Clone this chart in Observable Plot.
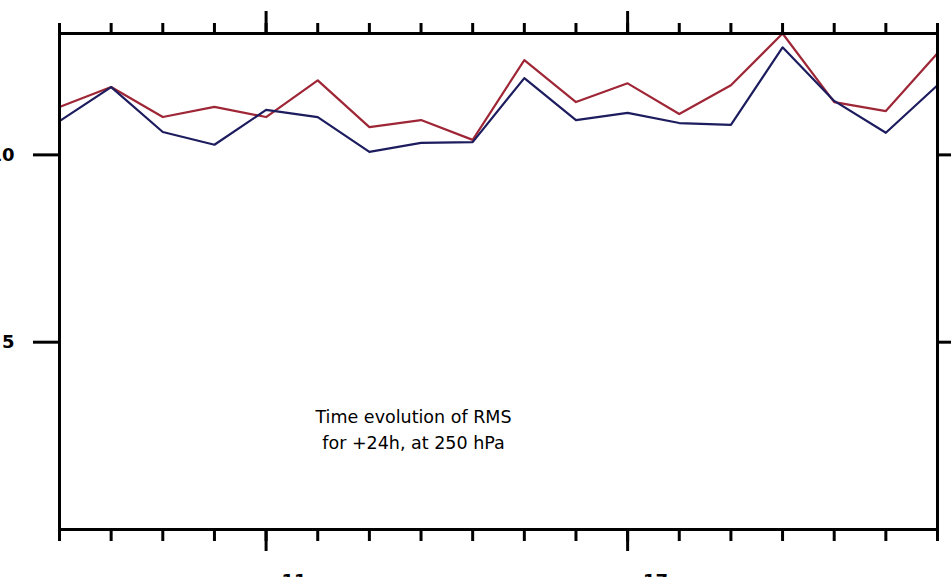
<!DOCTYPE html>
<html><head><meta charset="utf-8">
<script src="https://cdn.jsdelivr.net/npm/d3@7"></script>
<script src="https://cdn.jsdelivr.net/npm/@observablehq/plot@0.6"></script>
<style>html,body{margin:0;padding:0;background:#fff;overflow:hidden}</style>
</head><body><div id="chart"></div>
<script>
// time steps (one per tick on the x axis)
const steps = [0,1,2,3,4,5,6,7,8,9,10,11,12,13,14,15,16,17];
// RMS series
const blueRMS = [10.90,11.81,10.61,10.27,11.20,11.01,10.08,10.32,10.34,12.05,10.93,11.12,10.85,10.80,12.87,11.44,10.59,11.86];
const redRMS  = [11.28,11.81,11.01,11.28,11.01,11.99,10.74,10.93,10.40,12.53,11.41,11.91,11.09,11.86,13.24,11.41,11.17,12.71];
// axis ticks and labels
const yTicks = [5, 10];
const majorSteps = [4, 11];
const majorLabels = ["11", "17"];
const yDomain = [0, 13.24];
const titleLines = ["Time evolution of RMS", "for +24h, at 250 hPa"];

const FONT = "'Comic Sans MS', 'DejaVu Sans', sans-serif";

const plot = Plot.plot({
  width: 951, height: 600,
  marginLeft: 59, marginRight: 14, marginTop: 33, marginBottom: 71,
  x: {domain: [steps[0], steps[steps.length - 1]], axis: null},
  y: {domain: yDomain, axis: null},
  style: {fontFamily: FONT, background: "#fff", color: "#000", overflow: "visible"},
  marks: [
    Plot.line(steps, {x: d => d, y: (d, i) => redRMS[i], stroke: "#9e2636", strokeWidth: 2.2}),
    Plot.line(steps, {x: d => d, y: (d, i) => blueRMS[i], stroke: "#1c1c5e", strokeWidth: 2.2}),
    Plot.frame({strokeWidth: 3}),
    // top ticks
    Plot.axisX({anchor: "top", ticks: steps, tickSize: 11, strokeWidth: 3, tickFormat: () => "", label: null}),
    Plot.axisX({anchor: "top", ticks: majorSteps, tickSize: 23, strokeWidth: 3, tickFormat: () => "", label: null}),
    // bottom ticks
    Plot.axisX({anchor: "bottom", ticks: steps, tickSize: 12, strokeWidth: 3, tickFormat: () => "", label: null}),
    Plot.axisX({anchor: "bottom", ticks: majorSteps, tickSize: 22, strokeWidth: 3, tickFormat: () => "", label: null}),
    Plot.text(majorSteps, {x: d => d, frameAnchor: "bottom", text: (d, i) => majorLabels[i], dx: 28, dy: 52, fontSize: 18, fontWeight: "bold", lineAnchor: "middle"}),
    // y ticks
    Plot.axisY({anchor: "left", ticks: yTicks, tickSize: 26, tickPadding: 19, strokeWidth: 3, fontSize: 18, fontWeight: "bold", label: null}),
    Plot.axisY({anchor: "right", ticks: yTicks, tickSize: 16, strokeWidth: 3, tickFormat: () => "", label: null}),
    // title annotation
    Plot.text([titleLines.join("\n")], {frameAnchor: "middle", dx: -85, dy: 146, fontSize: 17.5, lineHeight: 1.5, fill: "#000"})
  ]
});
document.getElementById("chart").append(plot);
</script>
</body></html>
